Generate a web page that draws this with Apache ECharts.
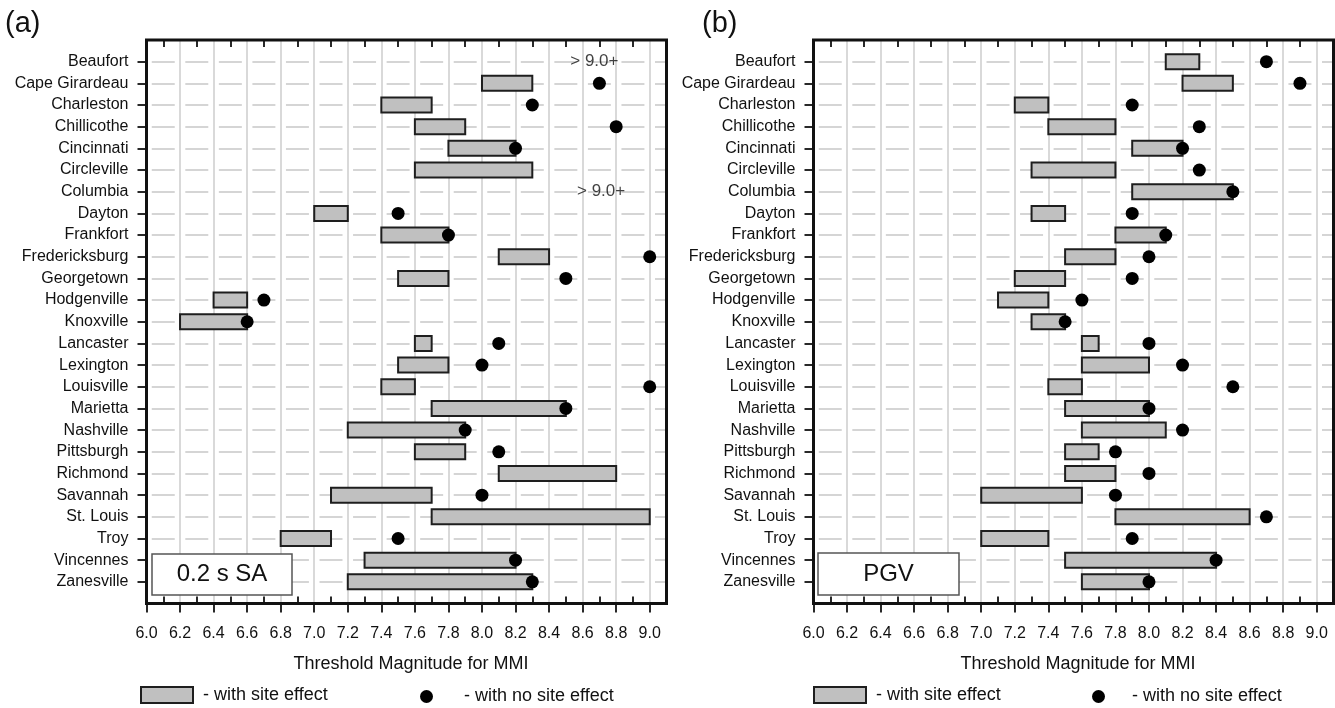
<!DOCTYPE html>
<html>
<head>
<meta charset="utf-8">
<title>Threshold Magnitude for MMI</title>
<script src="https://cdn.jsdelivr.net/npm/echarts@6/dist/echarts.min.js"></script>
<style>
  html, body { margin: 0; padding: 0; background: #fff; }
  #chart { width: 1335px; height: 708px; }
</style>
</head>
<body>
<div id="chart"></div>
<script>
// Cities, listed top to bottom in both panels
const cities = ['Beaufort', 'Cape Girardeau', 'Charleston', 'Chillicothe', 'Cincinnati',
  'Circleville', 'Columbia', 'Dayton', 'Frankfort', 'Fredericksburg', 'Georgetown',
  'Hodgenville', 'Knoxville', 'Lancaster', 'Lexington', 'Louisville', 'Marietta',
  'Nashville', 'Pittsburgh', 'Richmond', 'Savannah', 'St. Louis', 'Troy', 'Vincennes',
  'Zanesville'];

// (a) 0.2 s SA: threshold magnitude range with site effect, and value with no site effect
const saSiteLow  = [null, 8.0, 7.4, 7.6, 7.8, 7.6, null, 7.0, 7.4, 8.1, 7.5, 6.4, 6.2,
  7.6, 7.5, 7.4, 7.7, 7.2, 7.6, 8.1, 7.1, 7.7, 6.8, 7.3, 7.2];
const saSiteHigh = [null, 8.3, 7.7, 7.9, 8.2, 8.3, null, 7.2, 7.8, 8.4, 7.8, 6.6, 6.6,
  7.7, 7.8, 7.6, 8.5, 7.9, 7.9, 8.8, 7.7, 9.0, 7.1, 8.2, 8.3];
const saNoSite   = [null, 8.7, 8.3, 8.8, 8.2, null, null, 7.5, 7.8, 9.0, 8.5, 6.7, 6.6,
  8.1, 8.0, 9.0, 8.5, 7.9, 8.1, null, 8.0, null, 7.5, 8.2, 8.3];
// cities whose threshold lies beyond the axis
const saNoteCities = ['Beaufort', 'Columbia'];
const saNoteX      = [8.67, 8.71];
const saNoteText   = '> 9.0+';

// (b) PGV
const pgvSiteLow  = [8.1, 8.2, 7.2, 7.4, 7.9, 7.3, 7.9, 7.3, 7.8, 7.5, 7.2, 7.1, 7.3,
  7.6, 7.6, 7.4, 7.5, 7.6, 7.5, 7.5, 7.0, 7.8, 7.0, 7.5, 7.6];
const pgvSiteHigh = [8.3, 8.5, 7.4, 7.8, 8.2, 7.8, 8.5, 7.5, 8.1, 7.8, 7.5, 7.4, 7.5,
  7.7, 8.0, 7.6, 8.0, 8.1, 7.7, 7.8, 7.6, 8.6, 7.4, 8.4, 8.0];
const pgvNoSite   = [8.7, 8.9, 7.9, 8.3, 8.2, 8.3, 8.5, 7.9, 8.1, 8.0, 7.9, 7.6, 7.5,
  8.0, 8.2, 8.5, 8.0, 8.2, 7.8, 8.0, 7.8, 8.7, 7.9, 8.4, 8.0];

// x axis: labelled ticks and the in-between minor ticks
const xMin = 6.0, xMax = 9.1;
const xTickValues = [6.0, 6.2, 6.4, 6.6, 6.8, 7.0, 7.2, 7.4, 7.6, 7.8, 8.0, 8.2, 8.4, 8.6, 8.8, 9.0];
const xMinorValues = [6.1, 6.3, 6.5, 6.7, 6.9, 7.1, 7.3, 7.5, 7.7, 7.9, 8.1, 8.3, 8.5, 8.7, 8.9];

const SERIES_SITE = '- with site effect';
const SERIES_NOSITE = '- with no site effect';

const FONT = '"Liberation Sans", Arial, Helvetica, sans-serif';
const INK = '#111';

// one empty slot above and below the city rows
const rowCats = [''].concat(cities, ['']);

function barData(lo, hi) {
  const out = [];
  cities.forEach((c, i) => {
    if (lo[i] != null && hi[i] != null) out.push([lo[i], hi[i], i + 1]);
  });
  return out;
}
function dotData(vals) {
  const out = [];
  cities.forEach((c, i) => { if (vals[i] != null) out.push([vals[i], i + 1]); });
  return out;
}

function renderBar(params, api) {
  const row = api.value(2);
  const p0 = api.coord([api.value(0), row]);
  const p1 = api.coord([api.value(1), row]);
  const h = 15;
  return {
    type: 'rect',
    shape: { x: p0[0], y: p0[1] - h / 2, width: p1[0] - p0[0], height: h },
    style: { fill: '#c0c0c0', stroke: '#1e1e1e', lineWidth: 2 }
  };
}

const tickLine = { color: '#111', width: 1.8 };

function xAxesFor(g) {
  return [
    {
      type: 'value', gridIndex: g, position: 'bottom', min: xMin, max: xMax,
      axisLine: { show: false },
      axisTick: { show: true, inside: false, length: 9, customValues: xTickValues, lineStyle: tickLine },
      axisLabel: { customValues: xTickValues, formatter: v => v.toFixed(1), margin: 22,
        fontSize: 16, color: INK, fontFamily: FONT },
      splitLine: { show: true, lineStyle: { color: '#cdcdcd', width: 1.5 } },
      name: 'Threshold Magnitude for MMI', nameLocation: 'middle', nameGap: 52,
      nameTextStyle: { fontSize: 18, color: INK, fontFamily: FONT, padding: [0, 0, 0, 9] }
    },
    {
      type: 'value', gridIndex: g, position: 'bottom', min: xMin, max: xMax,
      axisLine: { show: false },
      axisTick: { show: true, inside: true, length: 7, customValues: xMinorValues, lineStyle: tickLine },
      axisLabel: { show: false }, splitLine: { show: false }
    },
    {
      type: 'value', gridIndex: g, position: 'top', min: xMin, max: xMax,
      axisLine: { show: false },
      axisTick: { show: true, inside: true, length: 7, customValues: xMinorValues, lineStyle: tickLine },
      axisLabel: { show: false }, splitLine: { show: false }
    }
  ];
}

function yAxisFor(g) {
  return {
    type: 'category', gridIndex: g, data: rowCats, inverse: true, boundaryGap: false,
    axisLine: { show: false },
    axisTick: { show: true, length: 9, interval: (i, v) => v !== '', lineStyle: tickLine },
    axisLabel: { interval: 0, margin: 18, fontSize: 16, color: INK, fontFamily: FONT },
    splitLine: { show: true, interval: (i, v) => v !== '',
      lineStyle: { color: '#c8c8c8', width: 1.5, type: [23, 10.55], dashOffset: 28.3 } }
  };
}

function panelSeries(xi, yi, lo, hi, dots) {
  return [
    { type: 'custom', name: SERIES_SITE, xAxisIndex: xi, yAxisIndex: yi,
      renderItem: renderBar, encode: { x: [0, 1], y: 2 }, data: barData(lo, hi),
      itemStyle: { color: '#c0c0c0', borderColor: '#1e1e1e', borderWidth: 2 }, z: 3, silent: true },
    { type: 'scatter', name: SERIES_NOSITE, xAxisIndex: xi, yAxisIndex: yi,
      symbol: 'circle', symbolSize: 13, itemStyle: { color: '#000', opacity: 1 },
      data: dotData(dots), z: 4, silent: true }
  ];
}

const legendText = { fontSize: 18, color: INK, fontFamily: FONT };

function legendsFor(swatchLeft, dotCenter, swatchPad, dotPad) {
  return [
    { left: swatchLeft - 5, top: 681, itemWidth: 52, itemHeight: 16, selectedMode: false,
      textStyle: Object.assign({ padding: [0, 0, 0, swatchPad] }, legendText),
      data: [{ name: SERIES_SITE, icon: 'rect',
        itemStyle: { color: '#c0c0c0', borderColor: '#1e1e1e', borderWidth: 2 } }] },
    { left: dotCenter - 11, top: 682.5, itemWidth: 13, itemHeight: 13, selectedMode: false,
      textStyle: Object.assign({ padding: [0, 0, 0, dotPad] }, legendText),
      data: [{ name: SERIES_NOSITE, icon: 'circle', itemStyle: { color: '#000' } }] }
  ];
}

function labelBox(x, y, w, h, text) {
  return {
    type: 'group', z: 100,
    children: [
      { type: 'rect', z: 100, shape: { x: x, y: y, width: w, height: h },
        style: { fill: '#fff', stroke: '#555', lineWidth: 1.5 } },
      { type: 'text', z: 101, x: x + w / 2, y: y + h / 2,
        style: { text: text, fill: INK, font: '24px ' + FONT, align: 'center', verticalAlign: 'middle' } }
    ]
  };
}

const gridBase = { top: 40, height: 563.5, width: 520, show: true, z: 10,
  outerBoundsMode: 'none', containLabel: false,
  borderColor: '#111', borderWidth: 3, backgroundColor: 'transparent' };

const option = {
  animation: false,
  textStyle: { fontFamily: FONT },
  grid: [
    Object.assign({ left: 146.5 }, gridBase),
    Object.assign({ left: 813.5 }, gridBase)
  ],
  xAxis: xAxesFor(0).concat(xAxesFor(1)),
  yAxis: [yAxisFor(0), yAxisFor(1)],
  legend: legendsFor(140, 426, 5, 26).concat(legendsFor(813, 1098, 5, 22)),
  series: panelSeries(0, 0, saSiteLow, saSiteHigh, saNoSite)
    .concat(panelSeries(3, 1, pgvSiteLow, pgvSiteHigh, pgvNoSite))
    .concat([{
      type: 'scatter', xAxisIndex: 0, yAxisIndex: 0, symbolSize: 1, silent: true,
      itemStyle: { color: 'rgba(0,0,0,0)' }, z: 5,
      label: { show: true, position: 'inside', formatter: p => p.name,
        fontSize: 17, color: INK, fontFamily: FONT },
      data: saNoteCities.map((c, i) => ({ name: saNoteText, value: [saNoteX[i], cities.indexOf(c) + 1] }))
    }]),
  graphic: [
    { type: 'text', left: 5, top: 9, z: 100,
      style: { text: '(a)', fill: INK, font: '29px ' + FONT } },
    { type: 'text', left: 702, top: 9, z: 100,
      style: { text: '(b)', fill: INK, font: '29px ' + FONT } },
    labelBox(152, 554, 140, 41, '0.2 s SA'),
    labelBox(818, 553, 141, 42, 'PGV')
  ]
};

const chart = echarts.init(document.getElementById('chart'), null, { renderer: 'canvas' });
chart.setOption(option);
</script>
</body>
</html>
